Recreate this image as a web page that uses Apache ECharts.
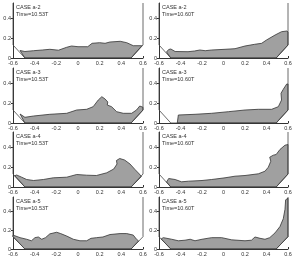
<!DOCTYPE html>
<html><head><meta charset="utf-8">
<script src="https://cdn.jsdelivr.net/npm/echarts@6/dist/echarts.min.js"></script>
<style>html,body{margin:0;padding:0;background:#fff}#c{width:295px;height:257px}</style>
</head><body><div id="c"></div>
<script>
// ---- data ----
const xRange = [-0.6, 0.6];
const yRange = [0, 0.55];
const caseNames = ['CASE a-2','CASE a-2','CASE a-3','CASE a-3','CASE a-4','CASE a-4','CASE a-5','CASE a-5'];
const timeLabels = ['Time=10.53T','Time=10.60T','Time=10.53T','Time=10.60T','Time=10.53T','Time=10.60T','Time=10.53T','Time=10.60T'];

// container (tank) outline
const contX = [-0.6, -0.6, -0.49, 0.49, 0.6, 0.6];
const contY = [0.55, 0.13, 0, 0, 0.13, 0.55];

// free-surface profiles
const a2_053_x = [-0.535,-0.49,-0.41,-0.33,-0.26,-0.18,-0.105,-0.06,0.0,0.09,0.13,0.20,0.25,0.295,0.39,0.45,0.51,0.59];
const a2_053_y = [0.075,0.065,0.073,0.08,0.087,0.078,0.107,0.12,0.113,0.113,0.147,0.153,0.147,0.16,0.167,0.153,0.123,0.123];

const a2_060_x = [-0.53,-0.51,-0.49,-0.45,-0.33,-0.27,-0.22,-0.17,-0.11,0.014,0.107,0.2,0.29,0.355,0.4,0.48,0.54,0.59,0.6];
const a2_060_y = [0.06,0.085,0.09,0.065,0.063,0.07,0.08,0.073,0.08,0.087,0.093,0.12,0.137,0.147,0.18,0.23,0.263,0.27,0.26];

const a3_053_x = [-0.535,-0.49,-0.41,-0.26,-0.104,-0.012,0.08,0.14,0.187,0.22,0.25,0.275,0.27,0.31,0.357,0.418,0.495,0.54,0.57,0.6];
const a3_053_y = [0.09,0.057,0.07,0.087,0.097,0.13,0.137,0.163,0.23,0.263,0.24,0.21,0.18,0.163,0.113,0.097,0.097,0.13,0.17,0.157];

const a3_060_x = [-0.43,-0.42,-0.265,-0.11,0.045,0.2,0.324,0.448,0.51,0.54,0.535,0.556,0.588,0.6];
const a3_060_y = [0.0,0.08,0.087,0.097,0.113,0.13,0.137,0.137,0.163,0.23,0.297,0.337,0.39,0.39];

const a4_053_x = [-0.585,-0.566,-0.52,-0.474,-0.41,-0.32,-0.228,-0.104,-0.012,0.08,0.17,0.265,0.33,0.36,0.355,0.385,0.43,0.48,0.526,0.566,0.585];
const a4_053_y = [0.112,0.12,0.098,0.075,0.065,0.075,0.092,0.098,0.125,0.118,0.115,0.142,0.18,0.23,0.265,0.285,0.27,0.23,0.175,0.13,0.105];

const a4_060_x = [-0.53,-0.51,-0.45,-0.39,-0.327,-0.2,-0.11,0.014,0.107,0.2,0.324,0.386,0.417,0.44,0.43,0.463,0.49,0.525,0.572,0.6];
const a4_060_y = [0.05,0.085,0.075,0.052,0.058,0.065,0.075,0.092,0.108,0.115,0.132,0.158,0.198,0.258,0.298,0.318,0.325,0.375,0.418,0.425];

const a5_053_x = [-0.6,-0.535,-0.474,-0.43,-0.397,-0.366,-0.335,-0.3,-0.26,-0.197,-0.16,-0.104,-0.043,0.018,0.08,0.12,0.172,0.23,0.295,0.388,0.45,0.51,0.54,0.56];
const a5_053_y = [0.147,0.12,0.103,0.087,0.12,0.127,0.103,0.12,0.16,0.177,0.163,0.137,0.103,0.087,0.087,0.113,0.12,0.127,0.153,0.163,0.163,0.147,0.103,0.085];

const a5_060_x = [-0.58,-0.56,-0.482,-0.42,-0.358,-0.31,-0.265,-0.2,-0.11,-0.017,0.076,0.2,0.26,0.293,0.34,0.386,0.43,0.479,0.525,0.556,0.572,0.578,0.6];
const a5_060_y = [0.106,0.12,0.103,0.087,0.093,0.103,0.087,0.103,0.12,0.12,0.097,0.087,0.093,0.127,0.113,0.103,0.12,0.17,0.237,0.32,0.42,0.52,0.537];

const surfX = [a2_053_x,a2_060_x,a3_053_x,a3_060_x,a4_053_x,a4_060_x,a5_053_x,a5_060_x];
const surfY = [a2_053_y,a2_060_y,a3_053_y,a3_060_y,a4_053_y,a4_060_y,a5_053_y,a5_060_y];

// ---- build ----
const gridLeft = [13, 159], gridWidth = [130, 129];
const gridTop = [3, 68, 132, 197], gridH = 55;
const FONT = 'Liberation Sans, Arial, sans-serif';

function polygonPoints(i){
  const xs = surfX[i], ys = surfY[i];
  const pts = xs.map((x,k)=>[x, ys[k]]);
  const x0 = xs[0], x1 = xs[xs.length-1];
  for (let k = contX.length-2; k >= 1; k--) {
    if (contX[k] <= x1 + 1e-9 && contX[k] >= x0 - 1e-9) pts.push([contX[k], contY[k]]);
  }
  return pts;
}

const grid=[], xAxis=[], yAxis=[], series=[], title=[];
for (let i=0;i<8;i++){
  const r = Math.floor(i/2), c = i%2;
  grid.push({left:gridLeft[c], width:gridWidth[c], top:gridTop[r], height:gridH, containLabel:false});
  xAxis.push({type:'value', gridIndex:i, min:xRange[0], max:xRange[1], interval:0.2,
    axisLine:{onZero:false, lineStyle:{color:'#333', width:1}}, axisTick:{inside:true, length:2, lineStyle:{color:'#333'}},
    axisLabel:{fontSize:5.5, margin:2, color:'#333', fontFamily:FONT}, splitLine:{show:false}});
  yAxis.push({type:'value', gridIndex:i, min:yRange[0], max:yRange[1], interval:0.2,
    axisLine:{show:true, onZero:false, lineStyle:{color:'#333', width:1}}, axisTick:{show:true, length:2, lineStyle:{color:'#333'}},
    axisLabel:{fontSize:5.5, margin:2, color:'#333', fontFamily:FONT, showMaxLabel:false}, splitLine:{show:false}});
  const pts = polygonPoints(i);
  series.push({type:'custom', xAxisIndex:i, yAxisIndex:i, data:pts, silent:true,
    encode:{x:0, y:1},
    renderItem:function(params, api){
      if (params.dataIndex !== 0) return null;
      const p = pts.map(d=>api.coord(d));
      return {type:'polygon', shape:{points:p}, style:{fill:'#a0a0a0', stroke:'#333', lineWidth:0.8}};
    }});
  series.push({type:'line', xAxisIndex:i, yAxisIndex:i, data:contX.map((x,k)=>[x,contY[k]]),
    symbol:'none', silent:true, lineStyle:{color:'#444', width:0.8}, z:3});
  title.push({text:caseNames[i]+'\n'+timeLabels[i], left:gridLeft[c]+3, top:gridTop[r]+1, padding:0,
    textStyle:{fontSize:5.5, fontWeight:'normal', color:'#333', lineHeight:7, fontFamily:FONT}});
}

const chart = echarts.init(document.getElementById('c'), null, {renderer:'canvas'});
chart.setOption({animation:false, backgroundColor:'#fff', title, grid, xAxis, yAxis, series});
</script></body></html>
